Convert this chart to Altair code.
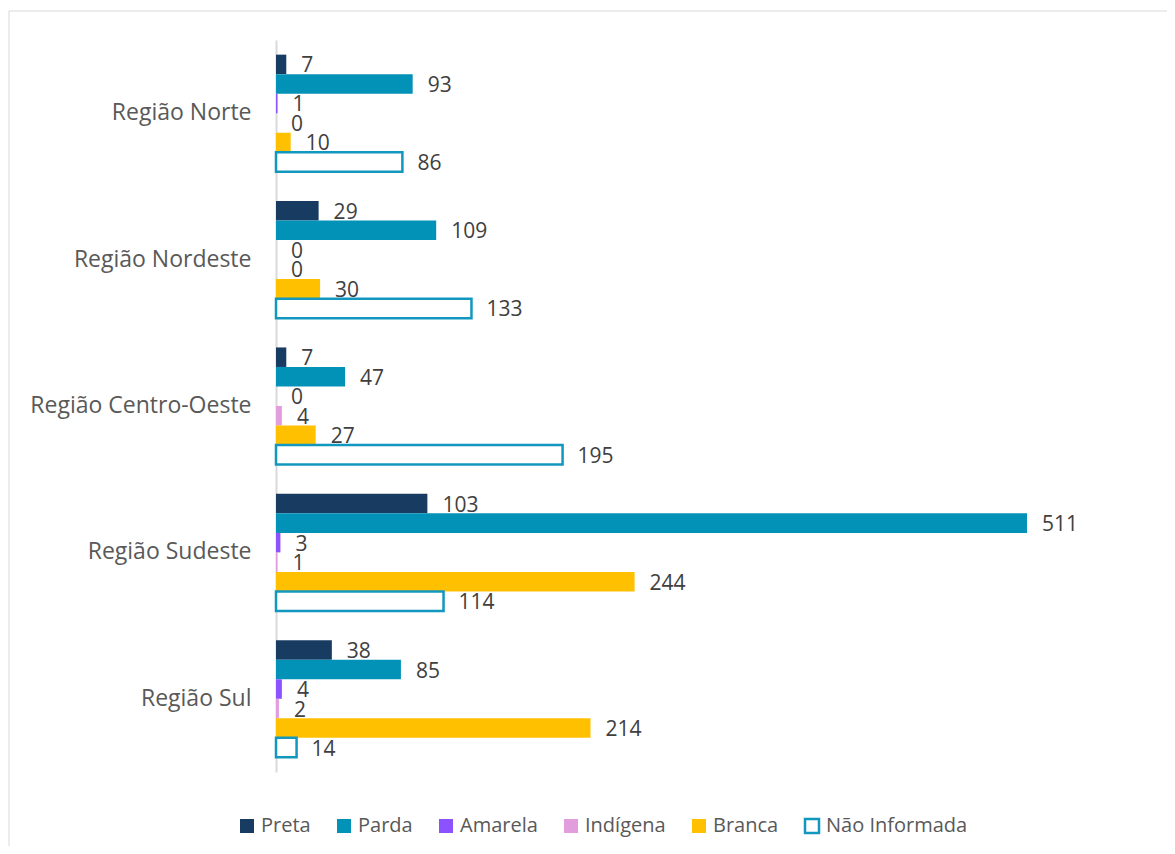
import altair as alt
import pandas as pd

regions = ["Região Norte", "Região Nordeste", "Região Centro-Oeste", "Região Sudeste", "Região Sul"]
series = ["Preta", "Parda", "Amarela", "Indígena", "Branca", "Não Informada"]
preta = [7, 29, 7, 103, 38]
parda = [93, 109, 47, 511, 85]
amarela = [1, 0, 0, 3, 4]
indigena = [0, 0, 4, 1, 2]
branca = [10, 30, 27, 244, 214]
nao_informada = [86, 133, 195, 114, 14]

fill_colors = ["#183b62", "#0392b7", "#8c52ff", "#e29ddc", "#ffc000", "#ffffff"]
stroke_colors = ["transparent", "transparent", "transparent", "transparent", "transparent", "#1297bf"]

values = [preta, parda, amarela, indigena, branca, nao_informada]
rows = []
for s, vals in zip(series, values):
    for r, v in zip(regions, vals):
        rows.append({"Região": r, "Raça": s, "Valor": v})
df = pd.DataFrame(rows)

FONT = "Open Sans"

y_enc = alt.Y("Região:N", sort=regions,
              scale=alt.Scale(paddingInner=0.2, paddingOuter=0.1),
              axis=alt.Axis(title=None, ticks=False, labelFontSize=23, labelColor="#595959",
                            labelFont=FONT, labelPadding=25, labelLimit=400,
                            domainColor="#d9d9d9", domainWidth=2, grid=False))
yoff = alt.YOffset("Raça:N", sort=series, scale=alt.Scale(paddingInner=0, paddingOuter=0))
x_enc = alt.X("Valor:Q", scale=alt.Scale(domain=[0, 511], nice=False), axis=None)

legend_args = dict(title=None, orient="none", direction="horizontal",
                   legendX=-39, legendY=776, symbolType="square",
                   symbolSize=196, symbolStrokeWidth=2.5,
                   labelFontSize=20, labelFont=FONT, labelColor="#595959",
                   labelOffset=4, columnPadding=21, columns=6)

bars = alt.Chart(df).mark_bar(strokeWidth=2.5).encode(
    x=x_enc,
    y=y_enc,
    yOffset=yoff,
    fill=alt.Fill("Raça:N", sort=series,
                  scale=alt.Scale(domain=series, range=fill_colors),
                  legend=alt.Legend(**legend_args)),
    stroke=alt.Stroke("Raça:N", sort=series,
                      scale=alt.Scale(domain=series, range=stroke_colors),
                      legend=alt.Legend(**legend_args)),
)

labels = alt.Chart(df).mark_text(align="left", baseline="middle", dx=15, dy=2,
                                 fontSize=21, font=FONT, color="#404040").encode(
    x=x_enc,
    y=alt.Y("Região:N", sort=regions),
    yOffset=yoff,
    text=alt.Text("Valor:Q"),
)

frame_df = pd.DataFrame({"a": [0]})
frame_top = alt.Chart(frame_df).mark_rule(color="#d9d9d9", strokeWidth=1).encode(
    x=alt.value(-267), x2=alt.value(900), y=alt.value(-29))
frame_left = alt.Chart(frame_df).mark_rule(color="#d9d9d9", strokeWidth=1).encode(
    x=alt.value(-267), y=alt.value(-29), y2=alt.value(810))

chart = alt.layer(frame_top, frame_left, bars, labels).properties(
    width=751, height=732,
    autosize=alt.AutoSizeParams(type="none"),
    padding={"left": 268, "top": 32, "right": 140, "bottom": 74},
).configure_view(stroke=None)

chart.save("out.html", embed_options={"renderer": "svg", "actions": False})
